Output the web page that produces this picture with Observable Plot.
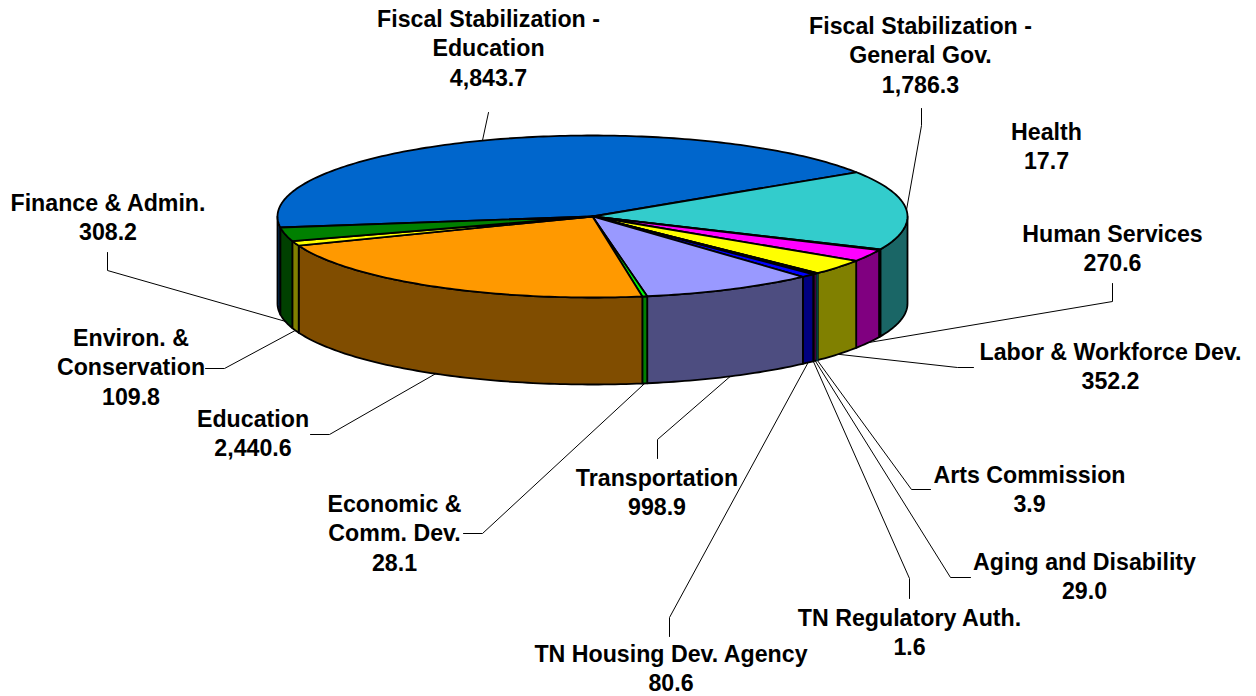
<!DOCTYPE html>
<html>
<head>
<meta charset="utf-8">
<script src="https://cdn.jsdelivr.net/npm/d3@7"></script>
<script src="https://cdn.jsdelivr.net/npm/@observablehq/plot@0.6"></script>
<style>
html,body{margin:0;padding:0;background:#fff;overflow:hidden}
svg{display:block}
</style>
</head>
<body>
<div id="chart"></div>
<script>
// Data, clockwise from the slice that starts at the left of the pie
const categories = ["Fiscal Stabilization -\nEducation","Fiscal Stabilization -\nGeneral Gov.","Health","Human Services","Labor & Workforce Dev.","Arts Commission","Aging and Disability","TN Regulatory Auth.","TN Housing Dev. Agency","Transportation","Economic &\nComm. Dev.","Education","Environ. &\nConservation","Finance & Admin."];
const values = [4843.7,1786.3,17.7,270.6,352.2,3.9,29.0,1.6,80.6,998.9,28.1,2440.6,109.8,308.2];
const topColors = ["#0066CC","#33CCCC","#000000","#FF00FF","#FFFF00","#008080","#800080","#000000","#0000FF","#9999FF","#00FF00","#FF9900","#FFFF00","#008000"];

// Layout of the drawing (separate from the data)
const pie = {cx:592, cy:216, rx:315, ry:81, depth:87, start:172.2};
const labelAt = [[488,46.5],[920,53.5],[1046,144.5],[1112,246.5],[1110,364.5],[1029,487.5],[1084,574.5],[909,630.5],[670.5,667],[656.5,490.5],[394,531.5],[252.5,431.5],[130.5,365.5],[107.5,215.5]];
const elbows = [
  [[488,112]],
  [[921,108],[921,125]],
  null,
  [[1112,283],[1112,301]],
  [[973,367],[957,367]],
  [[930,489],[911,489]],
  [[970,577],[950,577]],
  [[909,598],[909,578]],
  [[669,636],[669,617]],
  [[657,458],[657,439]],
  [[463,533],[482,533]],
  [[310,434],[329,434]],
  [[205,368],[224,368]],
  [[107,252],[107,270]]
];

const total = d3.sum(values);
const rad = d => d * Math.PI / 180;
const px = t => pie.cx + pie.rx * Math.cos(rad(t));
const py = t => pie.cy + pie.ry * Math.sin(rad(t));
const shade = c => { const r = d3.rgb(c); return d3.rgb(r.r/2, r.g/2, r.b/2).formatHex(); };

let acc = pie.start;
const slices = values.map((v,i) => {
  const a = acc, b = acc + v / total * 360;
  acc = b;
  return {i, a, b, mid:(a+b)/2, color:topColors[i], side:shade(topColors[i])};
});

const arc = (a,b) => {
  const n = Math.max(1, Math.ceil((b-a)));
  return d3.range(n+1).map(k => a + (b-a)*k/n);
};

// top wedges
const topPts = slices.flatMap(s => {
  const ring = [{x:pie.cx,y:pie.cy}, ...arc(s.a,s.b).map(t => ({x:px(t),y:py(t)})), {x:pie.cx,y:pie.cy}];
  return ring.map(p => ({...p, id:s.i, fill:s.color}));
});

// front wall pieces: only the part of a slice facing the viewer
const sidePts = slices.flatMap(s => {
  return [[0,180],[360,540]].flatMap(([lo,hi],w) => {
    const a = Math.max(s.a,lo), b = Math.min(s.b,hi);
    if (b <= a) return [];
    const ts = arc(a,b);
    const ring = [...ts.map(t => ({x:px(t),y:py(t)})), ...ts.slice().reverse().map(t => ({x:px(t),y:py(t)+pie.depth})), {x:px(a),y:py(a)}];
    return ring.map(p => ({...p, id:s.i+"-"+w, fill:s.side, sweep:b-a, color:s.color}));
  });
});
// hair-thin walls would vanish under their own outlines: they are outlined in their colour
const hairWalls = sidePts.filter(d => d.sweep < 0.2 && d.color !== "#000000");

// leader lines: elbow points, then the rim point at the slice's middle
const leaderPts = slices.flatMap(s => {
  const e = elbows[s.i];
  if (!e) return [];
  const front = Math.sin(rad(s.mid)) > 0;
  const rim = {x:px(s.mid), y:py(s.mid) + (front ? pie.depth : 0)};
  return [...e.map(([x,y]) => ({x,y})), rim].map(p => ({...p, id:s.i}));
});

const labels = categories.map((c,i) => ({
  text: c + "\n" + d3.format(",.1f")(values[i]),
  x: labelAt[i][0], y: labelAt[i][1]
}));

const chart = Plot.plot({
  width:1256, height:696, margin:0,
  x:{domain:[0,1256], range:[0,1256], axis:null},
  y:{domain:[0,696], range:[0,696], axis:null},
  marks:[
    Plot.line(leaderPts,{x:"x",y:"y",z:"id",stroke:"#000",strokeWidth:1}),
    Plot.line(sidePts,{x:"x",y:"y",z:"id",fill:d=>d.fill,stroke:"#000",strokeWidth:1.8,strokeLinejoin:"round"}),
    Plot.line(hairWalls,{x:"x",y:"y",z:"id",fill:d=>d.fill,stroke:d=>d.fill,strokeWidth:1.4,strokeLinejoin:"round"}),
    Plot.line(topPts,{x:"x",y:"y",z:"id",fill:d=>d.fill,stroke:"#000",strokeWidth:1.8,strokeLinejoin:"round"}),
    Plot.text(labels,{x:"x",y:"y",text:"text",fontFamily:"'Liberation Sans',Arial,sans-serif",fontWeight:"bold",fontSize:23.2,lineHeight:1.26,fill:"#000",textAnchor:"middle",lineAnchor:"middle"})
  ]
});
document.getElementById("chart").appendChild(chart);
</script>
</body>
</html>
